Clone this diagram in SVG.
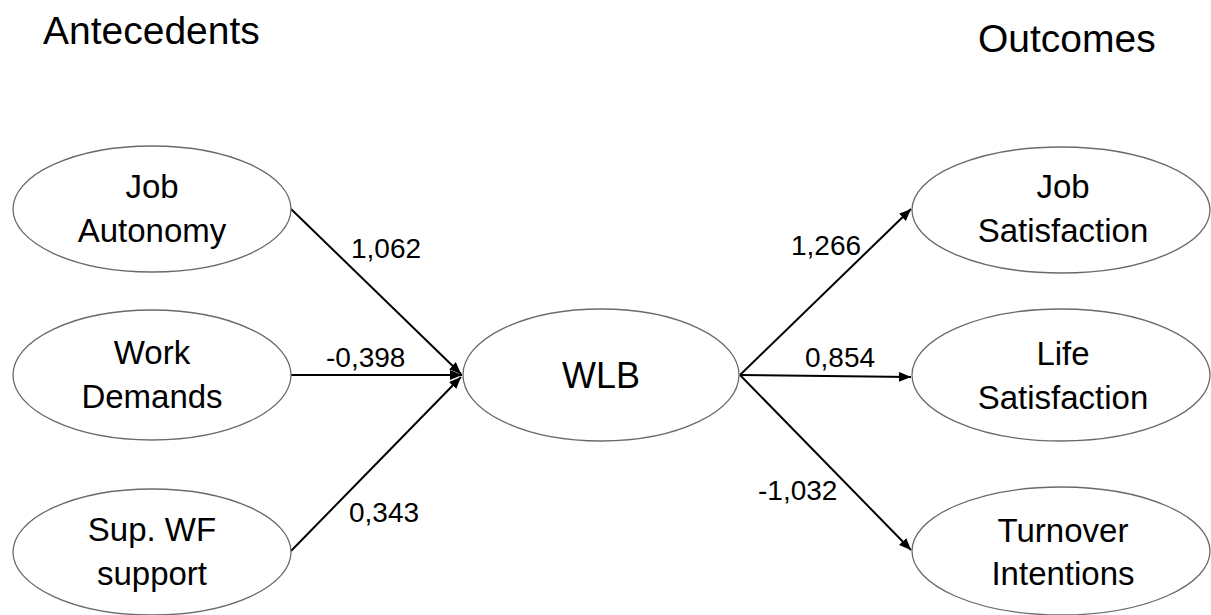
<svg xmlns="http://www.w3.org/2000/svg" width="1211" height="615" viewBox="0 0 1211 615">
<style>
.node ellipse{fill:#fff;stroke:#6a6a6a;stroke-width:1.3}
.nt{font-family:"Liberation Sans",Arial,sans-serif;font-size:33px;fill:#000;text-anchor:middle}
.lbl{font-family:"Liberation Sans",Arial,sans-serif;font-size:28px;fill:#000}
.hdr{font-family:"Liberation Sans",Arial,sans-serif;font-size:39px;fill:#000}
.edge{stroke:#000;stroke-width:2;fill:none;marker-end:url(#ah)}
</style>
<defs>
<marker id="ah" markerUnits="userSpaceOnUse" markerWidth="13" markerHeight="11" refX="12" refY="5" orient="auto">
<path d="M0,0 L12,5 L0,10 z" fill="#000"/>
</marker>
</defs>
<rect width="1211" height="615" fill="#fff"/>
<text class="hdr" x="43" y="44">Antecedents</text>
<text class="hdr" x="978" y="52">Outcomes</text>
<g id="connectors">
<line class="edge" x1="291" y1="209" x2="461" y2="374"/>
<line class="edge" x1="291" y1="375" x2="462" y2="375"/>
<line class="edge" x1="291" y1="551" x2="461" y2="377"/>
<line class="edge" x1="740" y1="375" x2="911" y2="209"/>
<line class="edge" x1="740" y1="375" x2="911" y2="377"/>
<line class="edge" x1="740" y1="375" x2="911" y2="550"/>
<text class="lbl" x="351" y="258">1,062</text>
<text class="lbl" x="326" y="367">-0,398</text>
<text class="lbl" x="349" y="522">0,343</text>
<text class="lbl" x="791" y="255">1,266</text>
<text class="lbl" x="805" y="367">0,854</text>
<text class="lbl" x="758" y="500">-1,032</text>
</g>
<g id="job-autonomy" class="node">
<ellipse cx="152" cy="209" rx="139" ry="63"/>
<text class="nt" x="152" y="198">Job</text>
<text class="nt" x="152" y="242">Autonomy</text>
</g>
<g id="work-demands" class="node">
<ellipse cx="152" cy="375" rx="139" ry="65"/>
<text class="nt" x="152" y="364">Work</text>
<text class="nt" x="152" y="408">Demands</text>
</g>
<g id="sup-wf-support" class="node">
<ellipse cx="152" cy="552" rx="139" ry="63"/>
<text class="nt" x="152" y="541">Sup. WF</text>
<text class="nt" x="152" y="585">support</text>
</g>
<g id="wlb" class="node">
<ellipse cx="601" cy="375" rx="138" ry="66"/>
<text class="nt" x="601" y="388" style="font-size:36px">WLB</text>
</g>
<g id="job-satisfaction" class="node">
<ellipse cx="1061" cy="210" rx="149" ry="63"/>
<text class="nt" x="1063" y="198">Job</text>
<text class="nt" x="1063" y="242">Satisfaction</text>
</g>
<g id="life-satisfaction" class="node">
<ellipse cx="1061" cy="375" rx="149" ry="66"/>
<text class="nt" x="1063" y="365">Life</text>
<text class="nt" x="1063" y="409">Satisfaction</text>
</g>
<g id="turnover-intentions" class="node">
<ellipse cx="1061" cy="551" rx="149" ry="64"/>
<text class="nt" x="1063" y="542">Turnover</text>
<text class="nt" x="1063" y="585">Intentions</text>
</g>
</svg>
